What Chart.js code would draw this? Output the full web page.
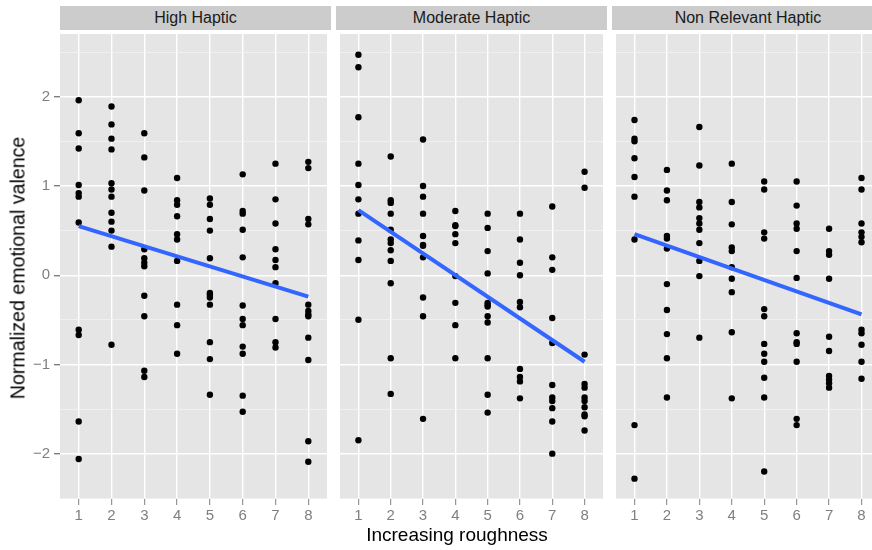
<!DOCTYPE html>
<html>
<head>
<meta charset="utf-8">
<script src="https://cdn.jsdelivr.net/npm/chart.js@4.4.0/dist/chart.umd.min.js"></script>
<style>
  body { margin: 0; background: #fff; overflow: hidden; }
  #wrap { position: relative; width: 872px; height: 550px; overflow: hidden;
          font-family: "Liberation Sans", Arial, sans-serif; }
  .strip { position: absolute; top: 6px; height: 24px; line-height: 24px; background: #CCCCCC;
           color: #1A1A1A; font-size: 16px; text-align: center; }
  .panel { position: absolute; top: 30px; }
  .ytitle { position: absolute; left: 18px; top: 268px; white-space: nowrap; font-size: 19.6px; color: #000;
            transform: translate(-50%, -50%) rotate(-90deg); }
  .xtitle { position: absolute; left: 457px; top: 535px; white-space: nowrap; font-size: 19px; color: #000;
            transform: translate(-50%, -50%); }
</style>
</head>
<body>
<div id="wrap">
  <div class="strip" style="left:60px;width:271px">High Haptic</div>
  <div class="strip" style="left:336px;width:271px">Moderate Haptic</div>
  <div class="strip" style="left:612px;width:272px">Non Relevant Haptic</div>
  <canvas id="c1" class="panel" style="left:0px" width="331" height="520"></canvas>
  <canvas id="c2" class="panel" style="left:336px" width="271" height="520"></canvas>
  <canvas id="c3" class="panel" style="left:612px" width="272" height="520"></canvas>
  <div class="ytitle">Normalized emotional valence</div>
  <div class="xtitle">Increasing roughness</div>
</div>
<script>
// roughness levels on the x axis
var roughness = [1, 2, 3, 4, 5, 6, 7, 8];
var xTickLabels = ['1', '2', '3', '4', '5', '6', '7', '8'];
// y grid: majors at integers, minors at halves
var yGrid = [-2.5, -2, -1.5, -1, -0.5, 0, 0.5, 1, 1.5, 2, 2.5];

// valence values per roughness level
var highHaptic = [
  [1.96, 1.59, 1.42, 1.01, 0.92, 0.88, 0.59, -0.61, -0.67, -1.64, -2.06],
  [1.89, 1.69, 1.53, 1.41, 1.03, 0.96, 0.88, 0.70, 0.60, 0.50, 0.32, -0.78],
  [1.59, 1.32, 0.95, 0.29, 0.19, 0.14, 0.10, -0.23, -0.46, -1.07, -1.14],
  [1.09, 0.84, 0.79, 0.66, 0.46, 0.40, 0.16, -0.33, -0.56, -0.88],
  [0.86, 0.79, 0.63, 0.50, 0.19, -0.20, -0.22, -0.25, -0.33, -0.75, -0.94, -1.34],
  [1.13, 0.72, 0.69, 0.51, 0.20, -0.34, -0.49, -0.56, -0.80, -0.88, -1.35, -1.53],
  [1.25, 0.85, 0.58, 0.29, 0.17, 0.09, -0.09, -0.49, -0.75, -0.81],
  [1.27, 1.20, 0.63, 0.57, -0.33, -0.40, -0.44, -0.46, -0.70, -0.95, -1.86, -2.09]
];
var moderateHaptic = [
  [2.47, 2.33, 1.77, 1.25, 1.01, 0.85, 0.69, 0.39, 0.17, -0.50, -1.85],
  [1.33, 0.84, 0.81, 0.69, 0.51, 0.40, 0.36, 0.28, 0.16, -0.09, -0.93, -1.33],
  [1.52, 1.00, 0.88, 0.69, 0.44, 0.34, 0.33, 0.20, -0.25, -0.46, -1.61],
  [0.72, 0.56, 0.55, 0.46, 0.36, -0.01, -0.31, -0.56, -0.93],
  [0.69, 0.53, 0.27, 0.02, -0.31, -0.33, -0.35, -0.46, -0.53, -0.93, -1.34, -1.54],
  [0.69, 0.40, 0.14, 0.00, -0.30, -0.36, -1.05, -1.14, -1.19, -1.38],
  [0.77, 0.20, 0.06, -0.48, -0.76, -1.23, -1.37, -1.41, -1.49, -1.64, -2.00],
  [1.16, 0.98, -0.89, -1.22, -1.26, -1.37, -1.41, -1.48, -1.56, -1.58, -1.74]
];
var nonRelevantHaptic = [
  [1.74, 1.53, 1.50, 1.31, 1.10, 0.88, 0.40, -1.68, -2.28],
  [1.18, 0.95, 0.84, 0.44, 0.41, 0.30, -0.10, -0.39, -0.66, -0.93, -1.37],
  [1.66, 1.23, 0.82, 0.76, 0.64, 0.58, 0.51, 0.36, 0.16, -0.01, -0.70],
  [1.25, 0.82, 0.57, 0.31, 0.27, 0.09, -0.04, -0.19, -0.64, -1.38],
  [1.05, 0.96, 0.48, 0.41, -0.38, -0.46, -0.77, -0.88, -0.97, -1.15, -1.37, -2.20],
  [1.05, 0.78, 0.58, 0.52, 0.27, -0.03, -0.65, -0.75, -0.77, -0.97, -1.61, -1.68],
  [0.52, 0.27, 0.23, -0.04, -0.69, -0.85, -1.13, -1.17, -1.21, -1.26],
  [1.09, 0.96, 0.58, 0.48, 0.43, 0.37, -0.61, -0.65, -0.78, -0.97, -1.16]
];

// linear fit, value at roughness 1 and 8
var fitX = [1, 8];
var highFit = [0.55, -0.24];
var moderateFit = [0.73, -0.97];
var nonRelevantFit = [0.46, -0.44];

var FONT = '"Liberation Sans", Arial, sans-serif';

var panelBg = {
  id: 'panelBg',
  beforeDraw: function(chart) {
    var a = chart.chartArea, ctx = chart.ctx;
    ctx.save();
    ctx.fillStyle = '#E5E5E5';
    ctx.fillRect(a.left, a.top, a.right - a.left, a.bottom - a.top);
    ctx.restore();
  }
};

function isMajor(c) {
  return c.tick && Number.isInteger(c.tick.value);
}

function fmt(v) {
  return v < 0 ? '\u2212' + Math.abs(v) : String(v);
}

function makePanel(id, series, fit, first) {
  var pts = [];
  series.forEach(function(vals, i) {
    vals.forEach(function(v) { pts.push({x: roughness[i], y: v}); });
  });
  var line = fitX.map(function(x, i) { return {x: x, y: fit[i]}; });

  new Chart(document.getElementById(id), {
    type: 'scatter',
    data: {
      datasets: [
        { type: 'line', data: line, borderColor: '#3366FF', borderWidth: 4,
          pointRadius: 0, fill: false, order: 0 },
        { data: pts, backgroundColor: '#000000', borderColor: '#000000',
          borderWidth: 0, pointRadius: 3.2, order: 1 }
      ]
    },
    options: {
      responsive: false,
      animation: false,
      events: [],
      layout: { padding: 0 },
      plugins: { legend: { display: false }, tooltip: { enabled: false } },
      scales: {
        x: {
          type: 'linear', min: 0.43, max: 8.57,
          afterBuildTicks: function(s) { s.ticks = roughness.map(function(v) { return {value: v}; }); },
          afterFit: function(s) { s.height = 51; s.paddingLeft = 0; s.paddingRight = 0; },
          border: { display: false },
          grid: { color: '#FFFFFF', lineWidth: 1.4, tickColor: '#7F7F7F', tickLength: 6, tickWidth: 1 },
          ticks: { color: '#7F7F7F', font: { size: 15, family: FONT }, padding: 2, maxRotation: 0,
                   callback: function(v, i) { return xTickLabels[i]; } }
        },
        y: {
          min: -2.508, max: 2.703,
          afterBuildTicks: function(s) { s.ticks = yGrid.map(function(v) { return {value: v}; }); },
          afterFit: function(s) { s.width = first ? 60 : 0; s.paddingTop = 0; s.paddingBottom = 0; },
          border: { display: false },
          grid: {
            color: function(c) { return isMajor(c) ? '#FFFFFF' : '#F2F2F2'; },
            lineWidth: function(c) { return isMajor(c) ? 1.4 : 0.8; },
            drawTicks: first, tickLength: 6,
            tickColor: function(c) { return isMajor(c) ? '#7F7F7F' : 'rgba(0,0,0,0)'; }
          },
          ticks: { display: first, color: '#7F7F7F', font: { size: 15, family: FONT }, padding: 4,
                   callback: function(v) { return Number.isInteger(v) ? fmt(v) : ''; } }
        }
      }
    },
    plugins: [panelBg]
  });
}

makePanel('c1', highHaptic, highFit, true);
makePanel('c2', moderateHaptic, moderateFit, false);
makePanel('c3', nonRelevantHaptic, nonRelevantFit, false);
</script>
</body>
</html>
